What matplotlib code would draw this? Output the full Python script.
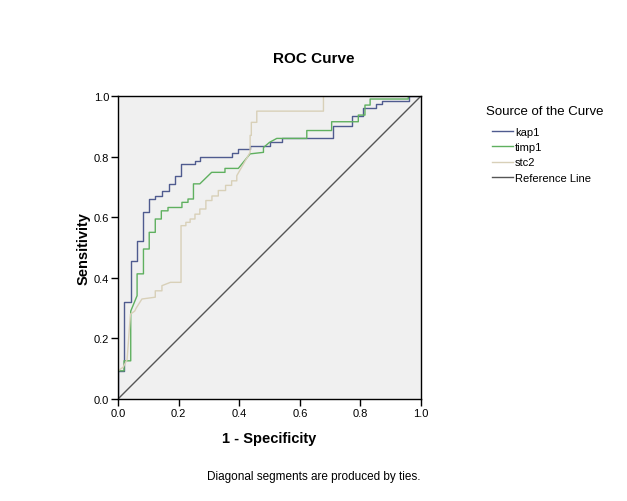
import matplotlib
matplotlib.use("Agg")
import matplotlib.pyplot as plt

plt.rcParams["font.family"] = ["Liberation Sans", "DejaVu Sans"]

# ROC vertices (1 - specificity, sensitivity).
kap1_fpr = [0, 0, 0.02, 0.02, 0.042, 0.042, 0.063, 0.063, 0.083, 0.083, 0.103, 0.103,
            0.123, 0.123, 0.145, 0.145, 0.167, 0.167, 0.189, 0.189, 0.209, 0.209,
            0.254, 0.254, 0.27, 0.27, 0.375, 0.375, 0.397, 0.397, 0.436, 0.436,
            0.502, 0.502, 0.54, 0.54, 0.708, 0.708, 0.771, 0.771, 0.81, 0.81,
            0.85, 0.85, 0.87, 0.87, 0.96, 0.96, 1.0]
kap1_tpr = [0, 0.093, 0.093, 0.319, 0.319, 0.457, 0.457, 0.523, 0.523, 0.616, 0.616, 0.66,
            0.66, 0.671, 0.671, 0.688, 0.688, 0.71, 0.71, 0.737, 0.737, 0.776,
            0.776, 0.787, 0.787, 0.798, 0.798, 0.811, 0.811, 0.825, 0.825, 0.836,
            0.836, 0.849, 0.849, 0.86, 0.86, 0.9, 0.9, 0.935, 0.935, 0.96,
            0.96, 0.975, 0.975, 0.985, 0.985, 1.0, 1.0]

timp1_fpr = [0, 0, 0.02, 0.02, 0.042, 0.042, 0.063, 0.063, 0.084, 0.084, 0.103, 0.103,
             0.123, 0.123, 0.143, 0.143, 0.165, 0.165, 0.211, 0.211, 0.231, 0.231,
             0.249, 0.249, 0.27, 0.309, 0.353, 0.353, 0.397, 0.436, 0.48, 0.48,
             0.50, 0.524, 0.623, 0.623, 0.705, 0.705, 0.793, 0.793, 0.815, 0.815,
             0.832, 0.832, 0.958, 0.958, 1.0]
timp1_tpr = [0, 0.093, 0.093, 0.126, 0.126, 0.29, 0.341, 0.413, 0.413, 0.495, 0.495, 0.55,
             0.55, 0.594, 0.594, 0.621, 0.621, 0.632, 0.632, 0.649, 0.649, 0.66,
             0.66, 0.71, 0.71, 0.748, 0.748, 0.761, 0.761, 0.809, 0.814, 0.83,
             0.847, 0.86, 0.86, 0.886, 0.886, 0.915, 0.915, 0.937, 0.937, 0.97,
             0.97, 0.99, 0.99, 1.0, 1.0]

stc2_fpr = [0, 0, 0.017, 0.03, 0.041, 0.055, 0.06, 0.079, 0.123, 0.123, 0.145, 0.145,
            0.173, 0.208, 0.208, 0.224, 0.224, 0.238, 0.238, 0.254, 0.254, 0.27,
            0.27, 0.29, 0.29, 0.31, 0.31, 0.331, 0.331, 0.355, 0.355, 0.375,
            0.375, 0.392, 0.392, 0.436, 0.436, 0.44, 0.44, 0.458, 0.458, 0.678,
            0.678, 1.0]
stc2_tpr = [0, 0.093, 0.105, 0.13, 0.28, 0.29, 0.30, 0.33, 0.336, 0.357, 0.357, 0.374,
            0.385, 0.385, 0.572, 0.572, 0.583, 0.583, 0.594, 0.594, 0.61, 0.61,
            0.627, 0.627, 0.655, 0.655, 0.67, 0.67, 0.688, 0.688, 0.705, 0.705,
            0.72, 0.72, 0.737, 0.814, 0.87, 0.87, 0.913, 0.913, 0.95, 0.95,
            1.0, 1.0]

reference_x = [0, 1]
reference_y = [0, 1]

ticks = [0.0, 0.2, 0.4, 0.6, 0.8, 1.0]
tick_labels = [f"{t:.1f}" for t in ticks]

fig = plt.figure(figsize=(6.27, 5.02), dpi=100)
ax = fig.add_axes([0.1882, 0.2032, 0.4833, 0.6036])
ax.set_facecolor("#f0f0f0")

ax.plot(kap1_fpr, kap1_tpr, color="#4f5b8f", linewidth=1.0, label="kap1")
ax.plot(timp1_fpr, timp1_tpr, color="#5fb05f", linewidth=1.0, label="timp1")
ax.plot(stc2_fpr, stc2_tpr, color="#d8d0b8", linewidth=1.0, label="stc2")
ax.plot(reference_x, reference_y, color="#555555", linewidth=1.0, label="Reference Line")

ax.set_xlim(0, 1)
ax.set_ylim(0, 1)
ax.set_xticks(ticks)
ax.set_yticks(ticks)
ax.set_xticklabels(tick_labels, fontsize=8)
ax.set_yticklabels(tick_labels, fontsize=8)
ax.tick_params(direction="out", length=5, width=1, pad=1.5)
for spine in ax.spines.values():
    spine.set_linewidth(1.0)

ax.set_xlabel("1 - Specificity", fontsize=10.5, weight="bold", labelpad=9)
ax.set_ylabel("Sensitivity", fontsize=10.5, weight="bold", labelpad=2)

fig.text(0.5, 0.882, "ROC Curve", ha="center", va="center", fontsize=11, weight="bold")
fig.text(0.5, 0.05, "Diagonal segments are produced by ties.", ha="center",
         va="center", fontsize=8.5)

# Legend title placed separately so it can sit left of the handles.
fig.text(0.775, 0.777, "Source of the Curve", ha="left", va="center", fontsize=9.5)
fig.legend(loc="upper left", bbox_to_anchor=(0.785, 0.745), frameon=False,
           fontsize=8, handlelength=1.9, handletextpad=0.15, labelspacing=0.47,
           borderaxespad=0, borderpad=0)

fig.savefig("out.png", dpi=100)
